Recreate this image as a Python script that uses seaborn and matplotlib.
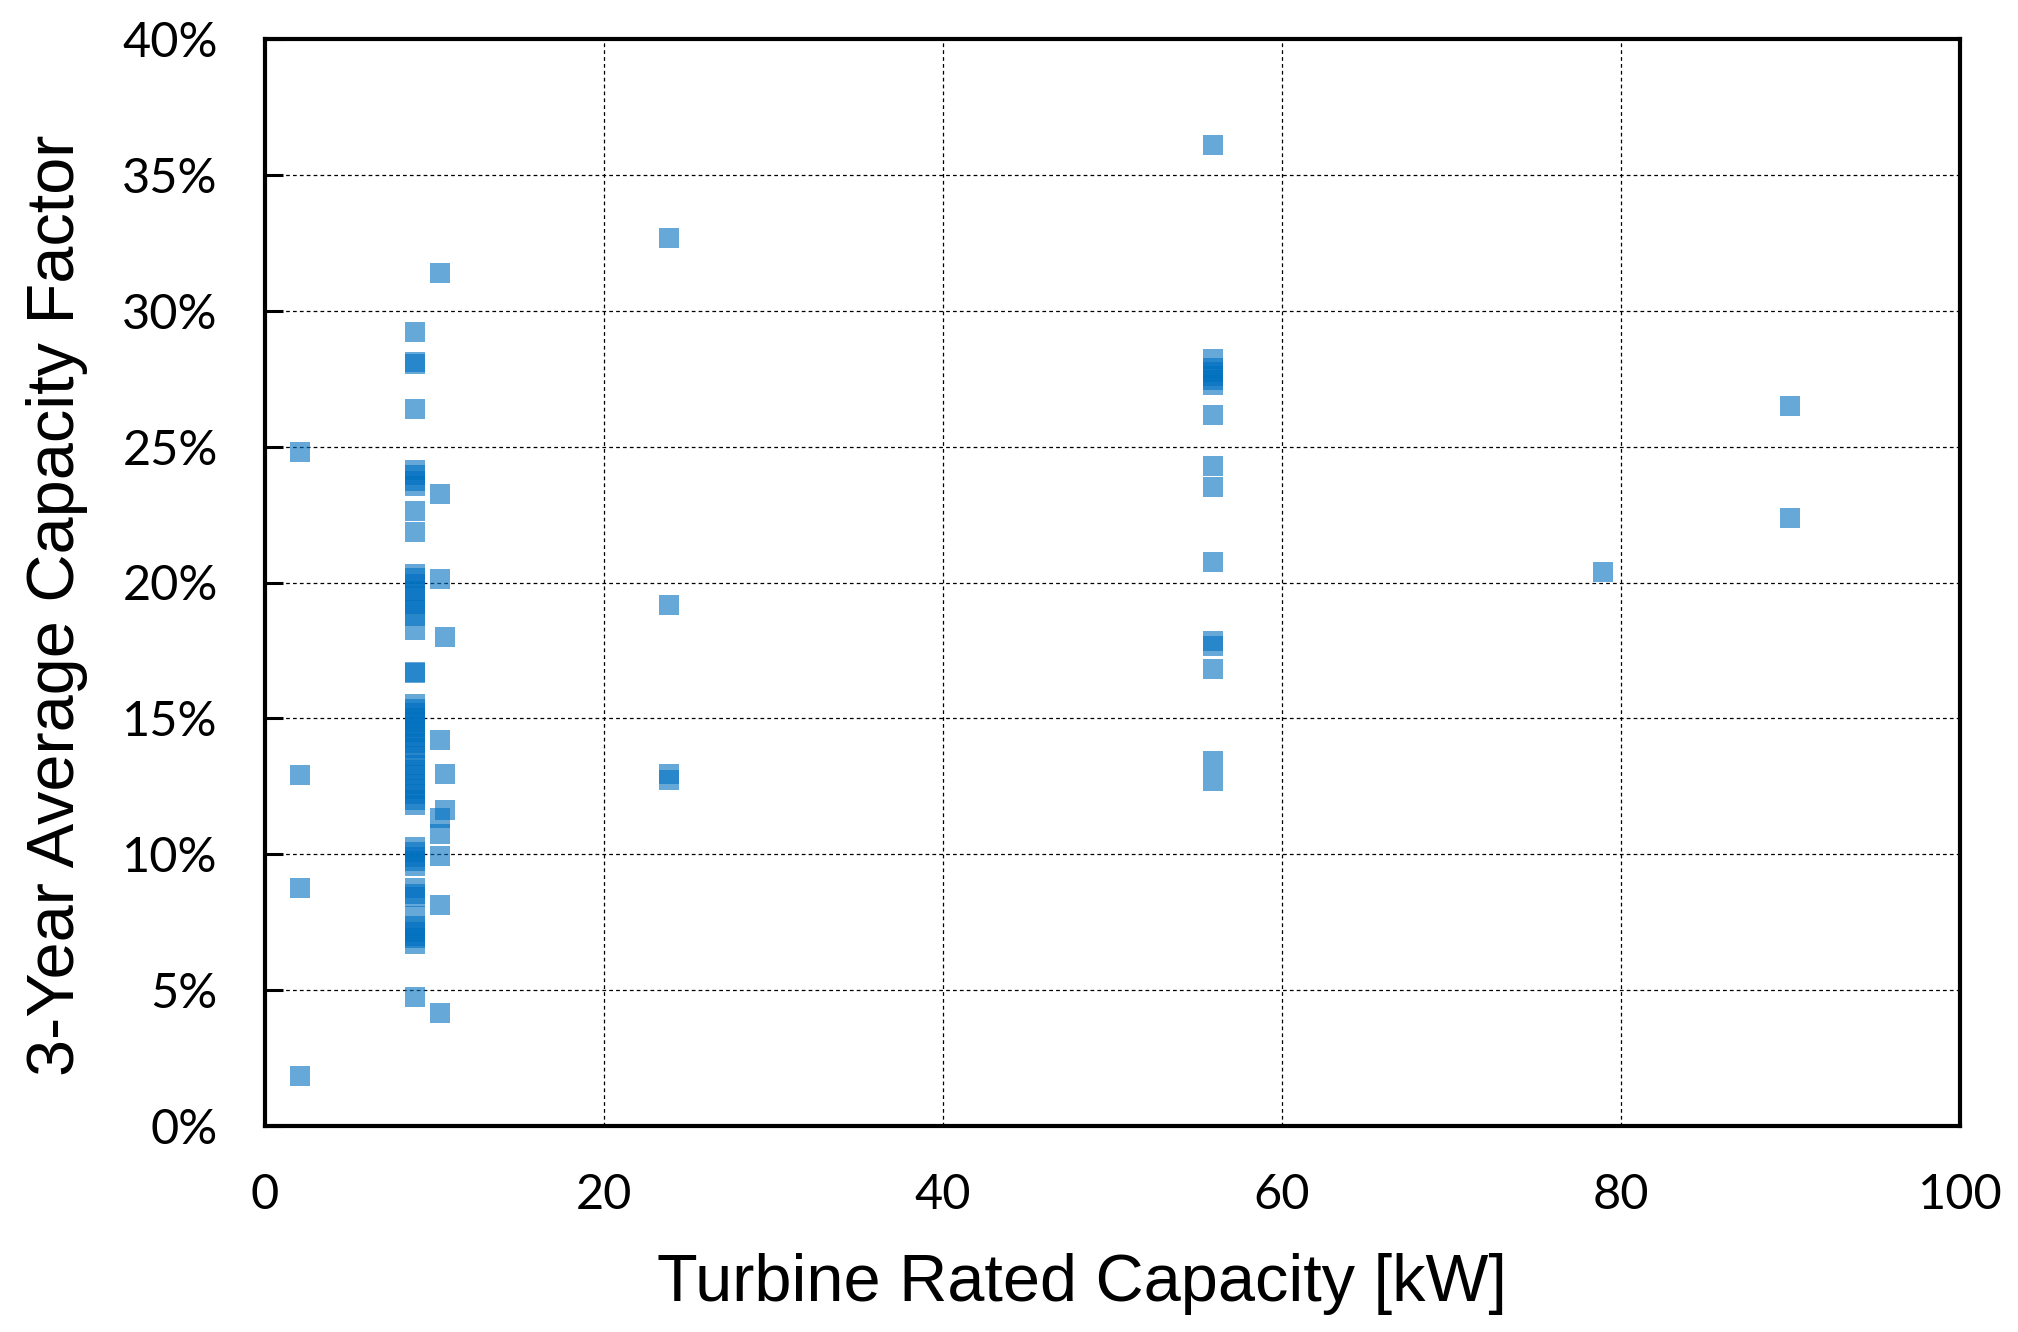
import matplotlib
matplotlib.use("Agg")
import matplotlib.pyplot as plt
from matplotlib.ticker import FuncFormatter
import pandas as pd
import seaborn as sns

# turbine rated capacity [kW] -> 3-year average capacity factor [%]
cf_2kw = [24.8, 12.9, 8.75, 1.85]
cf_9kw = [29.22, 28.1, 28.05, 26.4,
          24.15, 23.95, 23.75, 23.55, 22.64, 21.87,
          20.33, 20.15, 19.95, 19.7, 19.5, 19.2, 19.0, 18.78, 18.24,
          16.72, 16.68,
          15.52, 15.35, 15.2, 15.0, 14.85, 14.7, 14.5, 14.3, 14.1, 13.9,
          13.6, 13.3, 13.1, 12.9, 12.6, 12.4, 12.2, 12.0, 11.82,
          10.28, 10.1, 9.9, 9.75, 9.56,
          8.76, 8.55, 8.44, 7.71, 7.35, 7.15, 7.0, 6.9, 6.7,
          4.74]
cf_10_3kw = [31.38, 23.25, 20.14, 14.2, 11.35, 10.75, 9.93, 8.15, 4.14]
cf_10_6kw = [17.98, 12.94, 11.63]
cf_24kw = [32.66, 19.17, 12.95, 12.75]
cf_56kw = [36.1, 28.22, 27.9, 27.75, 27.6, 27.45, 27.28, 26.18,
           24.3, 23.5, 20.74, 17.85, 17.65, 16.81, 13.42, 12.71]
cf_79kw = [20.4]
cf_90kw = [26.5, 22.39]

groups = [(2.05, cf_2kw), (8.85, cf_9kw), (10.3, cf_10_3kw), (10.6, cf_10_6kw),
          (23.85, cf_24kw), (55.95, cf_56kw), (78.95, cf_79kw), (89.95, cf_90kw)]

rows = []
for kw, vals in groups:
    for v in vals:
        rows.append({"capacity": kw, "cf": v})
df = pd.DataFrame(rows)

# -----------------------------------------------------------------------------
sns.set_style("white")
plt.rcParams['font.family'] = ['Lato', 'DejaVu Sans']
plt.rcParams['text.color'] = 'black'
plt.rcParams['axes.labelcolor'] = 'black'

fig = plt.figure(figsize=(20.18, 13.32), dpi=100)
ax = fig.add_axes([265 / 2018, 1 - 1126 / 1332, (1960 - 265) / 2018, (1126 - 39) / 1332])

sns.scatterplot(data=df, x="capacity", y="cf", marker="s", s=200,
                color="#0070C0", alpha=0.6, linewidth=0, ax=ax, zorder=3)

ax.set_xlim(0, 100)
ax.set_ylim(0, 40)
ax.set_xticks(range(0, 101, 20))
ax.set_yticks(range(0, 41, 5))
ax.yaxis.set_major_formatter(FuncFormatter(lambda v, p: f"{v:.0f}%"))

ax.grid(True, color="black", linestyle=(0, (3, 2.5)), linewidth=0.9, zorder=0)
for sp in ax.spines.values():
    sp.set_visible(True)
    sp.set_color("black")
    sp.set_linewidth(3)

ax.tick_params(axis="y", direction="in", length=13, width=2.2, pad=34,
               labelsize=35, colors="black", left=True)
ax.tick_params(axis="x", direction="in", length=0, pad=34,
               labelsize=35, colors="black", bottom=True)

label_font = dict(family=['Liberation Sans'], size=48, color="black")
ax.set_xlabel("Turbine Rated Capacity [kW]", labelpad=26, **label_font)
ax.set_ylabel("3-Year Average Capacity Factor", labelpad=25, **label_font)
# labels sit a little off-centre in the original
ax.xaxis.label.set_x(0.482)
ax.yaxis.label.set_y(0.479)

fig.savefig("out.png", dpi=100, facecolor="white")
